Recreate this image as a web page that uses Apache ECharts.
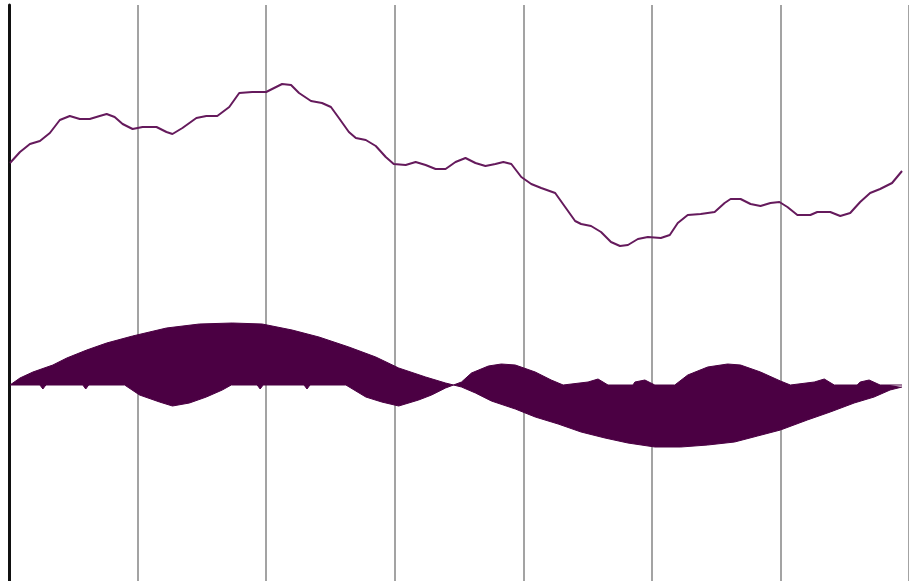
<!DOCTYPE html>
<html>
<head>
<meta charset="utf-8">
<script src="https://cdn.jsdelivr.net/npm/echarts@6/dist/echarts.min.js"></script>
<style>
  html, body { margin: 0; padding: 0; background: #ffffff; }
  #chart { width: 909px; height: 581px; }
</style>
</head>
<body>
<div id="chart"></div>
<script>
// x ticks every 129 units
const xTicks = [0, 129, 258, 387, 516, 645, 774];

// wandering line at the top
const topLine = [
  [1, 222], [11, 233], [21, 241], [31, 244], [41, 252], [51, 265], [61, 269], [71, 266],
  [81, 266], [91, 269], [98, 271], [106, 268], [114, 261], [124, 256], [134, 258], [148, 258],
  [158, 253], [164, 251], [174, 257], [188, 267], [198, 269], [209, 269], [221, 278], [231, 292],
  [244, 293], [258, 293], [268, 298], [274, 301], [283, 300], [291, 292], [303, 284], [314, 282],
  [323, 278], [331, 267], [341, 253], [348, 247], [358, 245], [368, 239], [378, 228], [386, 221],
  [398, 220], [408, 223], [418, 220], [428, 216], [438, 216], [448, 223], [458, 227], [468, 222],
  [478, 219], [488, 221], [496, 223], [504, 221], [514, 208], [524, 201], [534, 197], [548, 192],
  [558, 178], [568, 164], [574, 161], [584, 159], [594, 153], [604, 143], [613, 139], [621, 140],
  [631, 146], [641, 148], [654, 147], [663, 150], [671, 162], [681, 170], [694, 171], [708, 173],
  [718, 182], [724, 186], [734, 186], [744, 181], [754, 179], [764, 182], [773, 183], [781, 178],
  [791, 170], [804, 170], [811, 173], [824, 173], [834, 169], [844, 172], [854, 183], [864, 192],
  [874, 196], [886, 202], [896, 214]
];

// big slow wave (filled)
const slowWave = [
  [1, 0], [11, 7], [24, 13], [44, 20], [58, 27], [78, 35], [98, 42], [124, 49],
  [158, 57], [191, 61], [224, 62], [254, 61], [284, 55], [311, 48], [341, 38], [368, 28],
  [391, 17], [418, 8], [438, 2], [446, 0], [454, -2], [468, -8], [484, -16], [508, -24],
  [528, -32], [551, -39], [574, -47], [598, -53], [621, -58], [648, -62], [674, -62], [701, -60],
  [728, -57], [751, -51], [774, -45], [801, -35], [824, -27], [848, -18], [868, -12], [884, -5],
  [896, -2]
];

// smaller bumps (filled)
const bumpWave = [
  [1, 0], [31, 0], [34, -4], [37, 0], [74, 0], [77, -4], [80, 0], [116, 0],
  [131, -10], [151, -17], [164, -21], [181, -18], [198, -12], [214, -5], [223, 0], [249, 0],
  [252, -4], [255, 0], [296, 0], [299, -4], [302, 0], [338, 0], [358, -12], [374, -17],
  [391, -21], [411, -15], [424, -10], [438, -3], [446, 0], [454, 3], [464, 12], [481, 19],
  [494, 21], [508, 20], [528, 13], [544, 5], [556, 0], [581, 3], [591, 6], [601, 0],
  [626, 0], [628, 3], [638, 5], [648, 0], [668, 0], [681, 10], [701, 18], [721, 21],
  [734, 20], [754, 13], [774, 4], [784, 0], [808, 3], [818, 6], [828, 0], [851, 0],
  [854, 3], [863, 5], [874, 0], [896, 0]
];

const fillColor = '#4b0043';
const lineColor = '#651a5c';

const chart = echarts.init(document.getElementById('chart'));

function filled(data) {
  return {
    type: 'line',
    data: data,
    symbol: 'none',
    smooth: false,
    lineStyle: { color: fillColor, width: 1 },
    areaStyle: { color: fillColor, opacity: 1, origin: 0 },
    z: 2
  };
}

chart.setOption({
  animation: false,
  backgroundColor: '#ffffff',
  grid: { left: 9, right: -3, top: 5, bottom: 0 },
  xAxis: {
    type: 'value',
    min: xTicks[0],
    max: 903,
    interval: xTicks[1] - xTicks[0],
    axisLine: { show: false },
    axisTick: { show: false },
    axisLabel: { show: false },
    splitLine: { show: true, lineStyle: { color: '#a3a3a3', width: 2 } }
  },
  yAxis: {
    type: 'value',
    min: -196,
    max: 380,
    axisLine: { show: true, lineStyle: { color: '#111111', width: 3 } },
    axisTick: { show: false },
    axisLabel: { show: false },
    splitLine: { show: false }
  },
  series: [
    filled(slowWave),
    filled(bumpWave),
    {
      type: 'line',
      data: topLine,
      symbol: 'none',
      smooth: false,
      lineStyle: { color: lineColor, width: 2 },
      z: 3
    }
  ]
});
</script>
</body>
</html>
